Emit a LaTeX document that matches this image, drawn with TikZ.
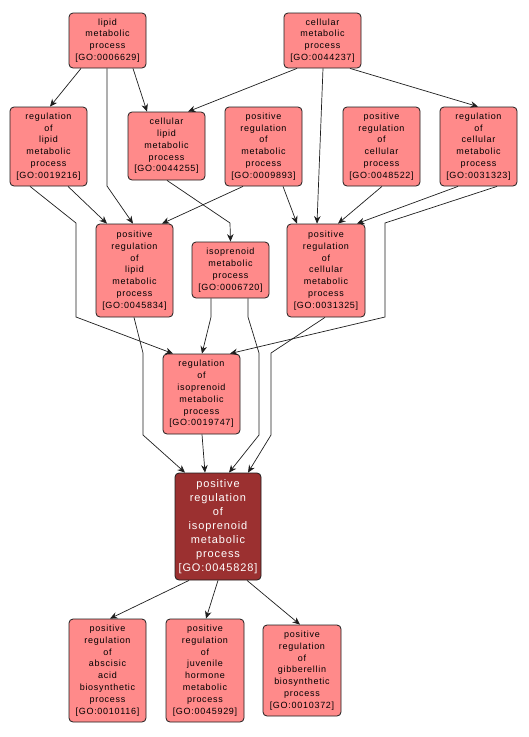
\documentclass[tikz,border=0pt]{standalone}
\usepackage{fontspec}
\newfontfamily\gofont{Liberation Sans}[LetterSpace=8]
\usetikzlibrary{arrows.meta}
\definecolor{gofill}{RGB}{255,138,138}
\definecolor{gomain}{RGB}{155,48,48}
\definecolor{goedge}{RGB}{30,30,30}
\tikzset{
  gonode/.style={draw=goedge, fill=gofill, rounded corners=4pt, align=center, inner sep=0pt,
    line width=0.8pt, font=\gofont\fontsize{9}{11.8}\selectfont},
  mainnode/.style={gonode, fill=gomain, text=white, font=\gofont\fontsize{11}{14}\selectfont},
  goarrow/.style={draw=goedge, line width=0.7pt, -{Stealth[length=7.5pt,width=6.5pt]}},
}
\begin{document}
\begin{tikzpicture}[x=1pt,y=-1pt]
\useasboundingbox (0,0) rectangle (528,737);
\fill[white] (0,0) rectangle (528,737);
% nodes
\node[gonode, minimum width=77, minimum height=55] (n6629) at (107.5,40.5) {lipid\\metabolic\\process\\{[GO:0006629]}};
\node[gonode, minimum width=77, minimum height=55] (n44237) at (322.5,40.5) {cellular\\metabolic\\process\\{[GO:0044237]}};
\node[gonode, minimum width=77, minimum height=79] (n19216) at (48.5,146.5) {regulation\\of\\lipid\\metabolic\\process\\{[GO:0019216]}};
\node[gonode, minimum width=77, minimum height=68] (n44255) at (166.5,146) {cellular\\lipid\\metabolic\\process\\{[GO:0044255]}};
\node[gonode, minimum width=77, minimum height=79] (n9893) at (263.5,146.5) {positive\\regulation\\of\\metabolic\\process\\{[GO:0009893]}};
\node[gonode, minimum width=77, minimum height=79] (n48522) at (381.5,146.5) {positive\\regulation\\of\\cellular\\process\\{[GO:0048522]}};
\node[gonode, minimum width=77, minimum height=79] (n31323) at (478.5,146.5) {regulation\\of\\cellular\\metabolic\\process\\{[GO:0031323]}};
\node[gonode, minimum width=77, minimum height=93] (n45834) at (134.5,270.5) {positive\\regulation\\of\\lipid\\metabolic\\process\\{[GO:0045834]}};
\node[gonode, minimum width=77, minimum height=56] (n6720) at (230.5,270) {isoprenoid\\metabolic\\process\\{[GO:0006720]}};
\node[gonode, minimum width=78, minimum height=93] (n31325) at (326,270.5) {positive\\regulation\\of\\cellular\\metabolic\\process\\{[GO:0031325]}};
\node[gonode, minimum width=77, minimum height=80] (n19747) at (201.5,394) {regulation\\of\\isoprenoid\\metabolic\\process\\{[GO:0019747]}};
\node[mainnode, minimum width=86, minimum height=107] (n45828) at (218,526.5) {positive\\regulation\\of\\isoprenoid\\metabolic\\process\\{[GO:0045828]}};
\node[gonode, minimum width=77, minimum height=103] (n10116) at (107.5,670.5) {positive\\regulation\\of\\abscisic\\acid\\biosynthetic\\process\\{[GO:0010116]}};
\node[gonode, minimum width=78, minimum height=103] (n45929) at (205,670.5) {positive\\regulation\\of\\juvenile\\hormone\\metabolic\\process\\{[GO:0045929]}};
\node[gonode, minimum width=78, minimum height=91] (n10372) at (302,670.5) {positive\\regulation\\of\\gibberellin\\biosynthetic\\process\\{[GO:0010372]}};
% edges
\draw[goarrow] ([xshift=-26.5pt]n6629.south) -- ([xshift=1.5pt]n19216.north);
\draw[goarrow] ([xshift=25.5pt]n6629.south) -- ([xshift=-19.5pt]n44255.north);
\draw[goarrow] ([xshift=-0.5pt]n6629.south) -- (107,186) -- ([xshift=-1.5pt]n45834.north);
\draw[goarrow] ([xshift=19.5pt]n19216.south) -- ([xshift=-27.5pt]n45834.north);
\draw[goarrow] ([xshift=-18.5pt]n19216.south) -- (76,223) -- (76,317) -- ([xshift=-28.5pt]n19747.north);
\draw[goarrow] ([xshift=0.5pt]n44255.south) -- (230,223) -- (n6720.north);
\draw[goarrow] ([xshift=-25.5pt]n44237.south) -- ([xshift=21.5pt]n44255.north);
\draw[goarrow] ([xshift=0.5pt]n44237.south) -- ([xshift=-9pt]n31325.north);
\draw[goarrow] ([xshift=27.5pt]n44237.south) -- ([xshift=-0.5pt]n31323.north);
\draw[goarrow] ([xshift=-20.5pt]n9893.south) -- ([xshift=27.5pt]n45834.north);
\draw[goarrow] ([xshift=19.5pt]n9893.south) -- ([xshift=-29pt]n31325.north);
\draw[goarrow] ([xshift=0.5pt]n48522.south) -- ([xshift=12pt]n31325.north);
\draw[goarrow] ([xshift=-20.5pt]n31323.south) -- ([xshift=31pt]n31325.north);
\draw[goarrow] ([xshift=18.5pt]n31323.south) -- (385,223) -- (385,317) -- ([xshift=28.5pt]n19747.north);
\draw[goarrow] ([xshift=-0.5pt]n45834.south) -- (143,353) -- (143,435) -- ([xshift=-33pt]n45828.north);
\draw[goarrow] ([xshift=-19.5pt]n6720.south) -- (211,317) -- ([xshift=0.5pt]n19747.north);
\draw[goarrow] ([xshift=17.5pt]n6720.south) -- (248,317) -- (259,353) -- (259,435) -- ([xshift=11pt]n45828.north);
\draw[goarrow] ([xshift=-1pt]n31325.south) -- (271,353) -- (271,435) -- ([xshift=30pt]n45828.north);
\draw[goarrow] ([xshift=0.5pt]n19747.south) -- ([xshift=-13pt]n45828.north);
\draw[goarrow] ([xshift=-29pt]n45828.south) -- ([xshift=2.5pt]n10116.north);
\draw[goarrow] (n45828.south) -- ([xshift=1pt]n45929.north);
\draw[goarrow] ([xshift=29pt]n45828.south) -- ([xshift=-2pt]n10372.north);
\end{tikzpicture}
\end{document}
